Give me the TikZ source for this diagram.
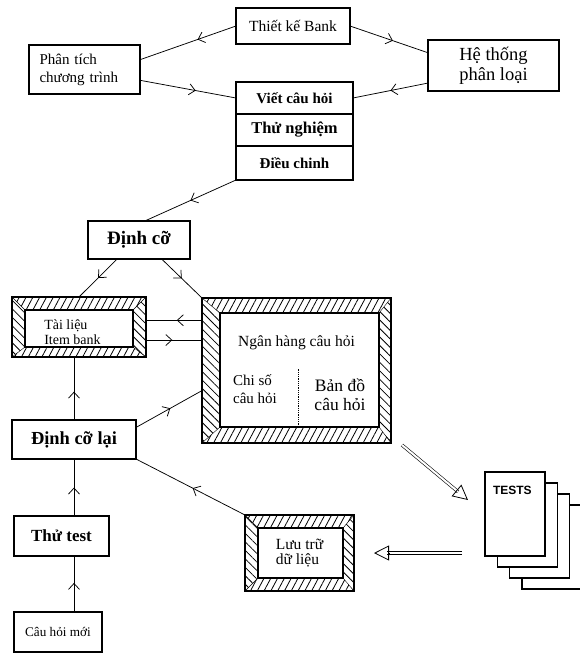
\documentclass[tikz,border=0pt]{standalone}
\usepackage{fontspec}
\setmainfont{Liberation Serif}
\newfontfamily\testsfont{Liberation Sans}
\usepackage{tikz}
\usetikzlibrary{positioning,
                calc,
                arrows.meta,
                decorations.markings,
                patterns.meta}

\tikzset{hatchh/.style={pattern={Lines[angle=62,distance=6pt,line width=.8pt]}},
         hatchv/.style={pattern={Lines[angle=-45,distance=6pt,line width=.8pt]}}}

% #1 node, #2..#5 widths of the left, top, right, bottom strips
\newcommand\hatchframe[5]{%
  \coordinate (oNW) at (#1.north west); \coordinate (oNE) at (#1.north east);
  \coordinate (oSW) at (#1.south west); \coordinate (oSE) at (#1.south east);
  \coordinate (iNW) at ($(oNW)+(#2,#3)$); \coordinate (iNE) at ($(oNE)+(-#4,#3)$);
  \coordinate (iSW) at ($(oSW)+(#2,-#5)$); \coordinate (iSE) at ($(oSE)+(-#4,-#5)$);
  \fill[hatchh] (oNW) -- (oNE) -- (iNE) -- (iNW) -- cycle;
  \fill[hatchh] (oSW) -- (oSE) -- (iSE) -- (iSW) -- cycle;
  \fill[hatchv] (oNW) -- (oSW) -- (iSW) -- (iNW) -- cycle;
  \fill[hatchv] (oNE) -- (oSE) -- (iSE) -- (iNE) -- cycle;
  \draw[line width=1.2pt] (iNW) rectangle (iSE);
  \draw[thin] (oNW) -- (iNW) (oNE) -- (iNE) (oSW) -- (iSW) (oSE) -- (iSE);
  \draw[line width=1.2pt] (oNW) rectangle (oSE);
}

\begin{document}
\begin{tikzpicture}[x=1pt,y=-1pt,
  box/.style={draw,line width=1.2pt,rectangle,inner sep=0pt,outer sep=0pt},
  txt/.style={inner sep=0pt,outer sep=0pt},
  link/.style={line width=.75pt,postaction={decorate},
    decoration={markings,mark=at position #1 with {\arrow{Straight Barb[length=6pt,width=11pt]}}}},
  link/.default=.5,
  dbl/.style={double,double distance=2pt,line width=.6pt},
  head/.style={line width=.8pt,-{Triangle[open,length=15pt,width=15pt]}}]
\useasboundingbox (0,0) rectangle (579,653);

% top part
\node[box,minimum width=114,minimum height=36,font=\fontsize{15.5}{18}\selectfont] (bank) at (293,26) {Thiết kế Bank};
\node[box,minimum width=111,minimum height=49,text width=90,align=left,font=\fontsize{15}{18}\selectfont] (phantich) at (84.5,69.5) {Phân tích\\chương trình};
\node[box,minimum width=131,minimum height=51,align=center,font=\fontsize{18.5}{20}\selectfont] (hethong) at (493.5,65.5) {Hệ thống\\phân loại};
\node[box,minimum width=117,minimum height=32,font=\bfseries\fontsize{15}{17}\selectfont] (viet) at (294.5,98) {Viết câu hỏi};
\node[box,minimum width=117,minimum height=32,font=\bfseries\fontsize{16.5}{17}\selectfont] (thunghiem) at (294.5,130) {Thử nghiệm};
\node[box,minimum width=117,minimum height=34,font=\bfseries\fontsize{15}{17}\selectfont] (dieuchinh) at (294.5,163) {Điều chinh};
\node[box,minimum width=102,minimum height=38,font=\bfseries\fontsize{19}{20}\selectfont] (dinhco) at (139,240) {Định cỡ};

% banks
\node[box,minimum width=134,minimum height=60] (tailieu) at (79,327) {};
\hatchframe{tailieu}{13}{13}{13}{10}
\node[txt,align=left,font=\fontsize{14}{14.5}\selectfont] (tailieutxt) at (72.5,332) {Tài liệu\\Item bank};

\node[box,minimum width=189,minimum height=145] (nganhang) at (296.5,370.5) {};
\hatchframe{nganhang}{18}{15}{12}{16}
\node[txt,font=\fontsize{15.5}{18}\selectfont] (ngantitle) at (296.5,343) {Ngân hàng câu hỏi};
\node[txt,align=left,font=\fontsize{15}{18}\selectfont] (chiso) at (255,389) {Chi số\\câu hỏi};
\node[txt,align=center,font=\fontsize{17.5}{19}\selectfont] (bando) at (340,395) {Bản đồ\\câu hỏi};
\draw[densely dotted,thick] ($(nganhang.south)+(2,-16)$) -- ($(nganhang.center)+(2,-2)$);

% bottom part
\node[box,minimum width=124,minimum height=39,font=\bfseries\fontsize{18.4}{20}\selectfont] (dinhcolai) at (74,439.5) {Định cỡ lại};
\node[box,minimum width=95,minimum height=40,font=\bfseries\fontsize{17}{19}\selectfont] (thutest) at (61.5,536) {Thử test};
\node[box,minimum width=88,minimum height=40,font=\fontsize{13.2}{15}\selectfont] (cauhoimoi) at (58,632) {Câu hỏi mới};

\node[box,minimum width=109,minimum height=76] (luutru) at (299.5,553) {};
\hatchframe{luutru}{13}{13}{11}{13}
\node[txt,align=left,font=\fontsize{15.5}{15}\selectfont] (luututxt) at (299.5,553) {Lưu trữ\\dữ liệu};

\foreach \i in {3,2,1,0}
  \node[box,fill=white,minimum width=60,minimum height=84] (page\i) at ({515+12.3*\i},{514+11*\i}) {};
\node[txt,anchor=north west,font=\testsfont\bfseries\fontsize{12}{14}\selectfont] (tests) at ($(page0.north west)+(8,14)$) {TESTS};

% connectors
\draw[link=.4] (bank.west) -- (phantich.10);
\draw[link=.55] (bank.east) -- (hethong.169);
\draw[link] (hethong.195) -- (viet.east);
\draw[link=.58] (phantich.-11) -- (viet.west);
\draw[link] (dieuchinh.south west) -- (dinhco.73);
\draw[link] (dinhco.221) -- (tailieu.north);
\draw[link] (dinhco.-40) -- (nganhang.north west);
\draw[link=.45] (nganhang.152) -- (nganhang.152 -| tailieu.east);
\draw[link=.47] (tailieu.-11) -- (tailieu.-11 -| nganhang.west);
\draw[link=.52] (dinhcolai.11) -- (nganhang.192);
\draw[link=.45] (dinhcolai.north) -- (dinhcolai.north |- tailieu.south);
\draw[link] (dinhcolai.south |- thutest.north) -- (dinhcolai.south);
\draw[link=.52] (dinhcolai.south |- cauhoimoi.north) -- (dinhcolai.south |- thutest.south);
\draw[link=.48] (luutru.north west) -- (dinhcolai.south east);

% double arrows
\coordinate (outA) at ($(nganhang.south east)+(11,2)$);
\coordinate (inA) at ($(page0.north west)+(-17,28)$);
\draw[dbl] (outA) -- ($(inA)!13pt!(outA)$);
\draw[head] ($(inA)!15pt!(outA)$) -- (inA);
\coordinate (outB) at ($(page0.west |- luutru.east)+(-23,0)$);
\coordinate (inB) at ($(luutru.east)+(20,0)$);
\draw[dbl] (outB) -- ($(inB)!13pt!(outB)$);
\draw[head] ($(inB)!15pt!(outB)$) -- (inB);
\end{tikzpicture}
\end{document}
